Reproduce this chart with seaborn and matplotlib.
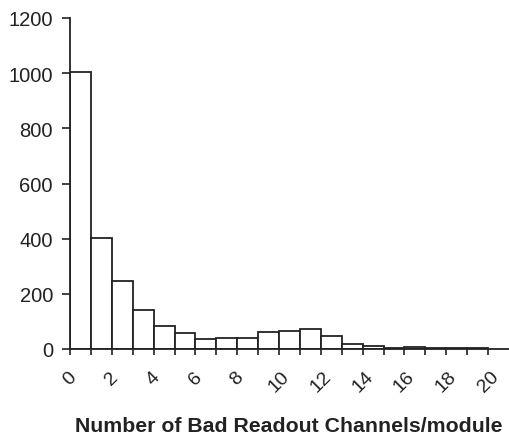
import numpy as np
import pandas as pd
import matplotlib
matplotlib.use("Agg")
import matplotlib.pyplot as plt
import seaborn as sns

bad_channels = list(range(20))
module_counts = [1005, 403, 246, 140, 83, 59, 35, 39, 39, 62, 67, 71, 46, 19, 10, 3, 8, 5, 2, 3]
tick_labels = ["0", "", "2", "", "4", "", "6", "", "8", "", "10", "", "12", "", "14", "", "16", "", "18", "", "20"]
yticks = [0, 200, 400, 600, 800, 1000, 1200]
xlabel = "Number of Bad Readout Channels/module"

sns.set_style("white")
plt.rcParams["font.family"] = ["Liberation Sans", "DejaVu Sans"]

df = pd.DataFrame({"channels": bad_channels, "count": module_counts})

fig = plt.figure(figsize=(5.09, 4.35), dpi=100)
ax = fig.add_axes([70 / 509, 1 - 350 / 435, 1 - 70 / 509, 331 / 435])

sns.histplot(data=df, x="channels", weights="count", binwidth=1, binrange=(0, 20),
             color="white", edgecolor="#222222", linewidth=1.3, alpha=1, ax=ax)

ax.set_xlim(0, 21)
ax.set_ylim(0, 1200)
ax.set_xticks(range(21))
ax.set_xticklabels(tick_labels, rotation=45, ha="center", rotation_mode="default",
                   fontsize=14, color="#222222")
ax.set_yticks(yticks)
ax.set_yticklabels([str(v) for v in yticks], fontsize=14.5, color="#222222")
ax.tick_params(axis="x", bottom=True, direction="out", length=4.5, width=1.2,
               color="#222222", pad=9)
ax.tick_params(axis="y", left=True, direction="out", length=5.8, width=1.2,
               color="#222222", pad=6.5)

for s in ["top", "right"]:
    ax.spines[s].set_visible(False)
for s in ["left", "bottom"]:
    ax.spines[s].set_color("#222222")
    ax.spines[s].set_linewidth(1.3)

ax.set_ylabel("")
ax.set_xlabel(xlabel, fontsize=15.3, fontweight="bold", color="#222222")
ax.xaxis.set_label_coords((289 - 70) / 439, (350 - 432) / 331)
ax.xaxis.label.set_va("baseline")

fig.savefig("out.png", dpi=100)
